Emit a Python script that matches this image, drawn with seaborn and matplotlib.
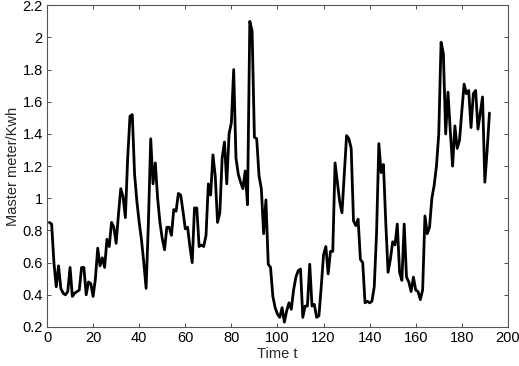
import numpy as np
import pandas as pd
import matplotlib
matplotlib.use("Agg")
import matplotlib.pyplot as plt
from matplotlib.ticker import FuncFormatter
import seaborn as sns

sns.set_style("ticks")
plt.rcParams['font.family'] = ['Liberation Sans', 'DejaVu Sans']

# master meter reading per time step
t = np.arange(1, 193)
kwh = [
    0.85, 0.84, 0.60, 0.45, 0.58, 0.44, 0.41, 0.40, 0.42, 0.57,
    0.39, 0.41, 0.42, 0.43, 0.57, 0.57, 0.40, 0.48, 0.47, 0.39,
    0.50, 0.69, 0.58, 0.63, 0.57, 0.745, 0.70, 0.85, 0.82, 0.72,
    0.90, 1.06, 1.01, 0.88, 1.25, 1.51, 1.52, 1.15, 0.98, 0.85,
    0.74, 0.60, 0.44, 0.85, 1.37, 1.09, 1.22, 1.00, 0.85, 0.75,
    0.68, 0.82, 0.82, 0.77, 0.93, 0.92, 1.03, 1.02, 0.92, 0.81,
    0.82, 0.70, 0.60, 0.94, 0.94, 0.70, 0.71, 0.70, 0.77, 1.09,
    1.02, 1.27, 1.14, 0.85, 0.91, 1.25, 1.35, 1.09, 1.40, 1.47,
    1.80, 1.25, 1.15, 1.10, 1.06, 1.17, 0.96, 2.10, 2.04, 1.38,
    1.37, 1.14, 1.06, 0.78, 0.99, 0.59, 0.57, 0.39, 0.32, 0.28,
    0.26, 0.32, 0.23, 0.30, 0.35, 0.31, 0.43, 0.51, 0.55, 0.56,
    0.26, 0.33, 0.33, 0.59, 0.33, 0.34, 0.26, 0.27, 0.45, 0.65,
    0.70, 0.53, 0.67, 0.67, 1.22, 1.10, 0.98, 0.91, 1.15, 1.39,
    1.37, 1.31, 0.86, 0.83, 0.87, 0.62, 0.60, 0.35, 0.36, 0.35,
    0.36, 0.45, 0.78, 1.34, 1.16, 1.21, 0.85, 0.54, 0.62, 0.73,
    0.71, 0.84, 0.54, 0.49, 0.84, 0.51, 0.48, 0.42, 0.51, 0.43,
    0.42, 0.37, 0.43, 0.89, 0.78, 0.82, 1.00, 1.08, 1.20, 1.40,
    1.97, 1.90, 1.40, 1.66, 1.42, 1.20, 1.45, 1.31, 1.36, 1.54,
    1.71, 1.65, 1.67, 1.44, 1.65, 1.67, 1.43, 1.53, 1.63, 1.10,
    1.30, 1.53,
]
df = pd.DataFrame({"Time t": t, "Master meter/Kwh": kwh})

fig = plt.figure(figsize=(5.19, 3.66), dpi=100)
ax = fig.add_axes([0.0906, 0.1066, 0.888, 0.879])
sns.lineplot(data=df, x="Time t", y="Master meter/Kwh", color="black", linewidth=2, ax=ax)

ax.set_xlim(0, 200)
ax.set_ylim(0.2, 2.2)
ax.set_xticks(np.arange(0, 201, 20))
ax.set_yticks(np.arange(0.2, 2.21, 0.2))
ax.yaxis.set_major_formatter(FuncFormatter(lambda v, p: "%g" % round(v, 1)))
ax.tick_params(direction="in", top=True, right=True, length=3, width=0.6,
               labelsize=10.5, colors="#333333", labelcolor="black", pad=3)
for s in ax.spines.values():
    s.set_color("#555555")
    s.set_linewidth(0.8)
ax.set_xlabel("Time t", fontsize=10.5, labelpad=1)
ax.set_ylabel("Master meter/Kwh", fontsize=10.5, labelpad=2)

fig.savefig("out.png", dpi=100)
